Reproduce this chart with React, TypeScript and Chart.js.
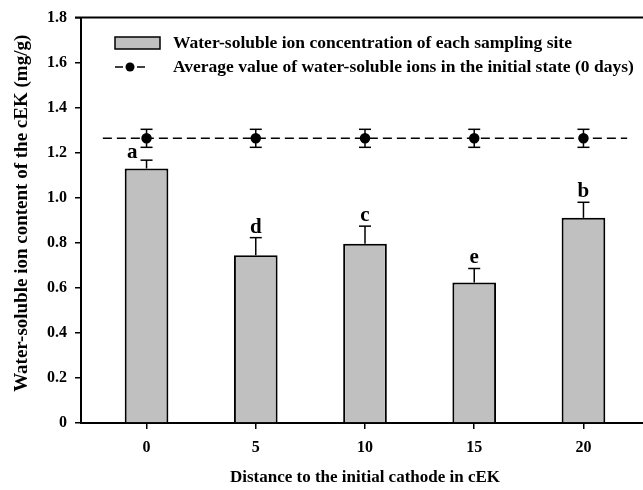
import React, { useEffect, useRef } from 'react';
import { Chart, registerables } from 'chart.js';

Chart.register(...registerables);

const distances = [0, 5, 10, 15, 20];
const ionValues = [1.13, 0.745, 0.796, 0.624, 0.911];
const ionErrors = [0.037, 0.078, 0.078, 0.062, 0.069];
const sigLetters = ['a', 'd', 'c', 'e', 'b'];
const initialAvg = 1.264;
const initialErr = 0.04;
const lineExtent = [-2, 22];
const xTicks = [0, 5, 10, 15, 20];
const yTicks = [0, 0.2, 0.4, 0.6, 0.8, 1.0, 1.2, 1.4, 1.6, 1.8];
const legendLabels = [
  'Water-soluble ion concentration of each sampling site',
  'Average value of water-soluble ions in the initial state (0 days)',
];
const xTitle = 'Distance to the initial cathode in cEK';
const yTitle = 'Water-soluble ion content of the cEK (mg/g)';

const FONT = '"Liberation Serif", "Times New Roman", serif';
const BAR_FILL = '#c0c0c0';

const overlay = {
  id: 'overlay',
  afterDatasetsDraw(chart: any) {
    const { ctx, chartArea, scales } = chart;
    const x = scales.x;
    const y = scales.y;
    const seg = (x1: number, y1: number, x2: number, y2: number) => {
      ctx.beginPath();
      ctx.moveTo(x1, y1);
      ctx.lineTo(x2, y2);
      ctx.stroke();
    };
    ctx.save();
    ctx.strokeStyle = '#000';
    ctx.lineWidth = 1.5;
    ctx.setLineDash([]);
    distances.forEach((d, i) => {
      const px = x.getPixelForValue(d);
      const top = y.getPixelForValue(ionValues[i]);
      const e = y.getPixelForValue(ionValues[i] + ionErrors[i]);
      seg(px, top, px, e);
      seg(px - 6, e, px + 6, e);
    });
    distances.forEach((d) => {
      const px = x.getPixelForValue(d);
      const hi = y.getPixelForValue(initialAvg + initialErr);
      const lo = y.getPixelForValue(initialAvg - initialErr);
      seg(px, hi, px, lo);
      seg(px - 6, hi, px + 6, hi);
      seg(px - 6, lo, px + 6, lo);
    });
    ctx.fillStyle = '#000';
    ctx.font = `bold 21px ${FONT}`;
    ctx.textAlign = 'center';
    ctx.textBaseline = 'alphabetic';
    distances.forEach((d, i) => {
      const shifted = i === 0;
      const px = x.getPixelForValue(shifted ? d - 0.65 : d);
      const e = y.getPixelForValue(ionValues[i] + ionErrors[i]);
      ctx.fillText(sigLetters[i], px, e - (shifted ? 2 : 5));
    });
    ctx.lineWidth = 2;
    seg(chartArea.left - 6, chartArea.top, chartArea.right, chartArea.top);
    // y axis title
    ctx.save();
    ctx.translate(22, (chartArea.top + chartArea.bottom) / 2 - 7);
    ctx.rotate(-Math.PI / 2);
    ctx.font = `bold 19px ${FONT}`;
    ctx.textAlign = 'center';
    ctx.textBaseline = 'middle';
    ctx.fillText(yTitle, 0, 0);
    ctx.restore();
    // legend
    const lx = 115;
    const ly1 = 43;
    const ly2 = 67;
    ctx.fillStyle = BAR_FILL;
    ctx.fillRect(lx, ly1 - 6, 45, 12);
    ctx.lineWidth = 1.5;
    ctx.strokeRect(lx, ly1 - 6, 45, 12);
    seg(lx, ly2, lx + 8, ly2);
    seg(lx + 22, ly2, lx + 30, ly2);
    ctx.fillStyle = '#000';
    ctx.beginPath();
    ctx.arc(lx + 15, ly2, 4.5, 0, Math.PI * 2);
    ctx.fill();
    ctx.font = `bold 17.5px ${FONT}`;
    ctx.textAlign = 'left';
    ctx.textBaseline = 'middle';
    ctx.fillText(legendLabels[0], 173, ly1);
    ctx.fillText(legendLabels[1], 173, ly2);
    ctx.restore();
  },
};

export default function App() {
  const ref = useRef<HTMLCanvasElement | null>(null);
  useEffect(() => {
    if (!ref.current) return;
    const lineData = [
      { x: lineExtent[0], y: initialAvg },
      ...distances.map((d) => ({ x: d, y: initialAvg })),
      { x: lineExtent[1], y: initialAvg },
    ];
    const chart = new Chart(ref.current, {
      type: 'bar',
      data: {
        datasets: [
          {
            type: 'bar',
            label: legendLabels[0],
            data: distances.map((d, i) => ({ x: d, y: ionValues[i] })),
            backgroundColor: BAR_FILL,
            borderColor: '#000',
            borderWidth: 2,
            barPercentage: 0.4,
            categoryPercentage: 1,
          } as any,
          {
            type: 'line',
            label: legendLabels[1],
            data: lineData,
            borderColor: '#000',
            borderWidth: 1.5,
            borderDash: [9, 5],
            pointRadius: (c: any) => (distances.includes(c.raw?.x) ? 4.5 : 0),
            pointBackgroundColor: '#000',
            pointBorderColor: '#000',
            fill: false,
          } as any,
        ],
      },
      options: {
        animation: false,
        responsive: false,
        devicePixelRatio: 1,
        layout: { padding: { left: 0, top: 15, right: 11, bottom: 0 } },
        plugins: { legend: { display: false }, tooltip: { enabled: false } },
        scales: {
          x: {
            type: 'linear',
            min: -3,
            max: 23,
            offset: false,
            afterBuildTicks: (s: any) => {
              s.ticks = xTicks.map((v) => ({ value: v }));
            },
            afterFit: (s: any) => {
              s.height = 67;
            },
            grid: {
              offset: false,
              drawOnChartArea: false,
              drawTicks: true,
              tickLength: 6,
              color: '#000',
              lineWidth: 1.5,
            },
            border: { display: true, color: '#000', width: 2 },
            ticks: {
              color: '#000',
              padding: 9,
              font: { family: FONT, size: 16, weight: 'bold' },
              callback: (v: any) => String(v),
            },
            title: {
              display: true,
              text: xTitle,
              color: '#000',
              font: { family: FONT, size: 17, weight: 'bold' },
              padding: { top: 0, bottom: 2 },
            },
          },
          y: {
            type: 'linear',
            min: 0,
            max: 1.8,
            afterBuildTicks: (s: any) => {
              s.ticks = yTicks.map((v) => ({ value: v }));
            },
            afterFit: (s: any) => {
              s.width = 81;
            },
            grid: {
              drawOnChartArea: false,
              drawTicks: true,
              tickLength: 6,
              color: '#000',
              lineWidth: 1.5,
            },
            border: { display: true, color: '#000', width: 2 },
            ticks: {
              color: '#000',
              padding: 8,
              font: { family: FONT, size: 16, weight: 'bold' },
              callback: (v: any) => (v === 0 ? '0' : Number(v).toFixed(1)),
            },
            title: { display: false, text: yTitle },
          },
        },
      },
      plugins: [overlay],
    });
    return () => chart.destroy();
  }, []);

  return (
    <div style={{ position: 'fixed', left: 0, top: 0, width: 643, height: 490, overflow: 'hidden', background: '#fff' }}>
      <div style={{ width: 660, height: 490 }}>
        <canvas ref={ref} width={660} height={490} style={{ display: 'block' }} />
      </div>
    </div>
  );
}
